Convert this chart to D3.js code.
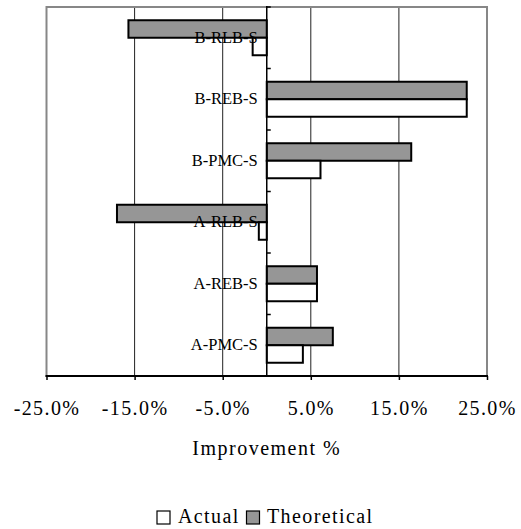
<!DOCTYPE html>
<html><head><meta charset="utf-8">
<script src="https://cdn.jsdelivr.net/npm/d3@7"></script>
<style>
html,body{margin:0;padding:0;background:#fff;}
svg{display:block;}
svg text{font-family:"Liberation Serif","Times New Roman",serif !important;}
</style></head>
<body>
<svg id="chart" width="521" height="529"></svg>
<script>
// Data (bottom to top)
const categories = ["A-PMC-S","A-REB-S","A-RLB-S","B-PMC-S","B-REB-S","B-RLB-S"];
const actual      = [4.1, 5.7, -0.9, 6.1, 22.7, -1.6];
const theoretical = [7.5, 5.7, -17.0, 16.4, 22.7, -15.7];
const seriesNames = ["Actual","Theoretical"];
const xTicks = [-25, -15, -5, 5, 15, 25];
const xTitle = "Improvement %";

const svg = d3.select("#chart");
const L = 46.5, R = 487, T = 7, B = 376;

const x = d3.scaleLinear().domain([-25, 25]).range([L, R]);
const y = d3.scaleBand().domain(categories.slice().reverse()).range([T, B]).padding(0);
const sub = d3.scaleBand().domain(["Theoretical","Actual"]).range([0, y.bandwidth()])
  .paddingInner(0).paddingOuter(0.757);

// gridlines
svg.append("g").selectAll("line").data(xTicks.filter(d => d !== -25 && d !== 25)).join("line")
  .attr("x1", d => x(d)).attr("x2", d => x(d)).attr("y1", T).attr("y2", B)
  .attr("stroke", "#222").attr("stroke-width", 1);

// plot border
svg.append("rect").attr("x", L).attr("y", T).attr("width", R - L).attr("height", B - T)
  .attr("fill", "none").attr("stroke", "#878787").attr("stroke-width", 2);

const rows = categories.map((c, i) => ({c, a: actual[i], t: theoretical[i]}));

// bars
const fills = {Actual: "#ffffff", Theoretical: "#969696"};
const barData = [];
rows.forEach(r => {
  barData.push({c: r.c, s: "Theoretical", v: r.t});
  barData.push({c: r.c, s: "Actual", v: r.a});
});
svg.append("g").selectAll("rect").data(barData).join("rect")
  .attr("x", d => x(Math.min(0, d.v)))
  .attr("width", d => Math.abs(x(d.v) - x(0)))
  .attr("y", d => y(d.c) + sub(d.s))
  .attr("height", sub.bandwidth())
  .attr("fill", d => fills[d.s])
  .attr("stroke", "#000").attr("stroke-width", 2);

// y axis at zero
const x0 = x(0);
svg.append("line").attr("x1", x0).attr("x2", x0).attr("y1", T - 1).attr("y2", B)
  .attr("stroke", "#000").attr("stroke-width", 1.5);
const boundaries = categories.map(c => y(c)).concat([B]);
svg.append("g").selectAll("line").data(boundaries).join("line")
  .attr("x1", x0).attr("x2", x0 + 4).attr("y1", d => d).attr("y2", d => d)
  .attr("stroke", "#000").attr("stroke-width", 1.5);

// category labels
svg.append("g").selectAll("text").data(categories).join("text")
  .attr("x", x0 - 9).attr("y", d => y(d) + y.bandwidth() / 2 + 1)
  .attr("text-anchor", "end").attr("dominant-baseline", "middle")
  .attr("font-size", "16.5px").attr("fill", "#000")
  .text(d => d);

// x axis
const xAxis = d3.axisBottom(x).tickValues(xTicks).tickSize(4)
  .tickFormat(d => d.toFixed(1) + "%");
const gx = svg.append("g").attr("transform", `translate(0,${B})`).call(xAxis);
gx.select(".domain").attr("stroke", "#000").attr("stroke-width", 2)
  .attr("d", `M${L - 1},0H${R + 1}`);
gx.selectAll(".tick line").attr("stroke", "#000").attr("stroke-width", 1.5);
gx.selectAll(".tick text")
  .attr("font-size", "20px").attr("letter-spacing", "1.4px")
  .attr("y", 0).attr("dy", 0)
  .attr("transform", "translate(0,39)")
  .attr("fill", "#000");

// x title
svg.append("text").attr("x", (L + R) / 2).attr("y", 455)
  .attr("text-anchor", "middle").attr("font-size", "20px").attr("letter-spacing", "1.5px")
  .text(xTitle);

// legend
const lg = svg.append("g");
const legendItems = [
  {name: seriesNames[0], box: 157, tx: 178},
  {name: seriesNames[1], box: 246.5, tx: 267}
];
lg.selectAll("rect").data(legendItems).join("rect")
  .attr("x", d => d.box).attr("y", 511).attr("width", 13).attr("height", 13)
  .attr("fill", d => fills[d.name]).attr("stroke", "#000").attr("stroke-width", 1.2);
lg.selectAll("text").data(legendItems).join("text")
  .attr("x", d => d.tx).attr("y", 523)
  .attr("font-size", "20px").attr("letter-spacing", "1.4px")
  .text(d => d.name);
</script>
</body></html>
